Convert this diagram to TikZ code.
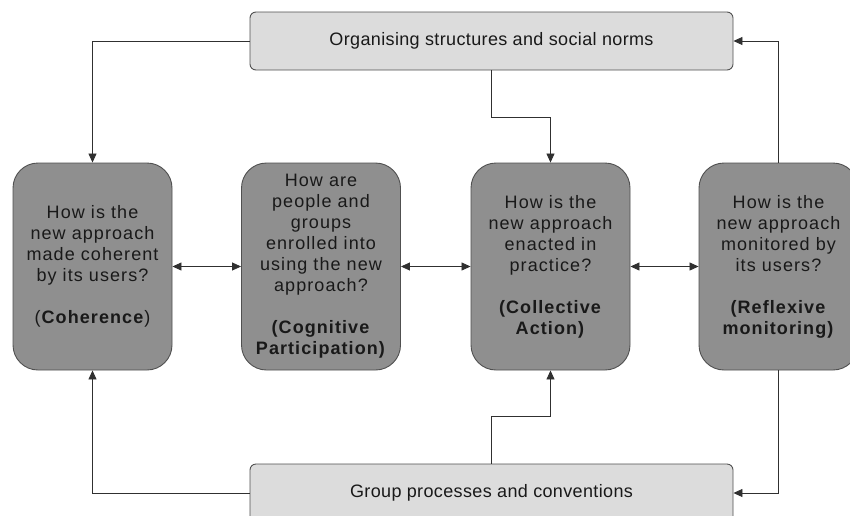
\documentclass[tikz,border=0pt]{standalone}
\usepackage{fontspec}
\setmainfont{Liberation Sans}[LetterSpace=2]
\newfontfamily\boxfont{Liberation Sans}[LetterSpace=6]
\usetikzlibrary{arrows.meta}
\definecolor{darkfill}{HTML}{8F8F8F}
\definecolor{lightfill}{HTML}{DCDCDC}
\definecolor{edge}{HTML}{505050}
\definecolor{linecol}{HTML}{303030}
\tikzset{
  bigbox/.style={draw=edge, line width=0.9pt, fill=darkfill, rounded corners=25pt,
    minimum width=159pt, minimum height=207pt, align=center, inner sep=0pt,
    font=\boxfont\fontsize{18}{21}\selectfont, text=black!90},
  lightbox/.style={draw=edge, line width=0.9pt, fill=lightfill, rounded corners=6pt,
    minimum width=483pt, minimum height=58pt, align=center, inner sep=0pt,
    font=\fontsize{18}{21}\selectfont, text=black!90},
  conn/.style={draw=linecol, line width=0.8pt, -{Triangle[length=9pt,width=8pt]}},
  dconn/.style={draw=linecol, line width=0.8pt, {Triangle[length=9pt,width=8pt]}-{Triangle[length=9pt,width=8pt]}}
}
\begin{document}
\begin{tikzpicture}[x=1pt,y=1pt]
\useasboundingbox (0,0) rectangle (850,-515);
\clip (0,0) rectangle (850,-515);
\fill[white] (0,0) rectangle (850,-515);

\node[lightbox] (top) at (491.5,-41) {Organising structures and social norms};
\node[lightbox] (bot) at (491.5,-493) {Group processes and conventions};

\node[bigbox] (b1) at (92.5,-266.5) {How is the\\new approach\\made coherent\\by its users?\\[21pt](\textbf{Coherence})};
\node[bigbox] (b2) at (321,-266.5) {How are\\people and\\groups\\enrolled into\\using the new\\approach?\\[21pt]\textbf{(Cognitive}\\\textbf{Participation)}};
\node[bigbox] (b3) at (550.5,-266.5) {How is the\\new approach\\enacted in\\practice?\\[21pt]\textbf{(Collective}\\\textbf{Action)}};
\node[bigbox] (b4) at (778.5,-266.5) {How is the\\new approach\\monitored by\\its users?\\[21pt]\textbf{(Reflexive}\\\textbf{monitoring)}};

\draw[conn] (top.west) -| (b1.north);
\draw[conn] (top.south) -- ++(0,-47) -| (b3.north);
\draw[conn] (b4.north) |- (top.east);
\draw[conn] (bot.west) -| (b1.south);
\draw[conn] (bot.north) -- ++(0,47) -| (b3.south);
\draw[conn] (b4.south) |- (bot.east);

\draw[dconn] (b1.east) -- (b2.west);
\draw[dconn] (b2.east) -- (b3.west);
\draw[dconn] (b3.east) -- (b4.west);
\end{tikzpicture}
\end{document}
